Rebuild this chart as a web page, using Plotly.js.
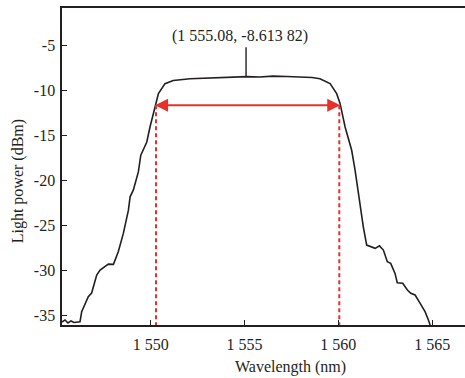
<!DOCTYPE html>
<html>
<head>
<meta charset="utf-8">
<script src="https://cdn.plot.ly/plotly-3.0.1.min.js"></script>
<style>html,body{margin:0;padding:0;background:#fff;}#chart{width:465px;height:378px;}</style>
</head>
<body>
<div id="chart"></div>
<script>
// Spectrum (wavelength in nm, power in dBm)
const wavelength = [1545.27,1545.43,1545.59,1545.75,1545.91,1546.12,1546.23,1546.32,1546.49,1546.67,1546.85,1547.12,1547.30,1547.51,1547.74,1548.01,1548.27,1548.54,1548.81,1548.90,1549.07,1549.34,1549.47,1549.79,1549.96,1550.23,1550.41,1550.76,1551.20,1552.09,1553.00,1553.69,1554.40,1555.12,1555.80,1556.52,1557.25,1557.96,1558.60,1559.02,1559.56,1559.91,1560.09,1560.36,1560.71,1560.89,1561.16,1561.33,1561.51,1561.78,1561.96,1562.19,1562.40,1562.61,1562.79,1563.02,1563.14,1563.43,1563.68,1563.86,1564.09,1564.36,1564.62,1564.80,1564.89];
const power = [-35.70,-35.47,-35.81,-35.58,-35.75,-35.70,-35.66,-34.55,-33.81,-32.89,-32.48,-30.48,-29.93,-29.60,-29.27,-29.30,-27.90,-25.86,-23.28,-21.80,-21.06,-19.03,-17.18,-15.71,-14.04,-11.83,-10.34,-9.23,-8.87,-8.68,-8.62,-8.57,-8.55,-8.45,-8.50,-8.40,-8.44,-8.48,-8.55,-8.68,-9.23,-10.34,-11.42,-14.04,-16.63,-18.84,-22.91,-25.13,-27.16,-27.35,-27.52,-27.24,-27.71,-29.01,-29.19,-30.30,-31.34,-31.40,-32.15,-32.51,-32.70,-33.62,-34.55,-35.47,-36.03];

// Peak annotation
const peakX = 1555.08;
const peakY = -8.45;
const peakLabel = "(1 555.08, -8.613 82)";
const peakLabelY = -3.9;
const peakLineTop = -5.2;

// 3 dB bandwidth markers
const edgeLeft = 1550.28;
const edgeRight = 1560.05;
const arrowLeft = 1550.15;
const arrowRight = 1560.10;
const bandLevel = -11.64;

// Axes
const xTickVals = [1550, 1555, 1560, 1565];
const xTickText = ["1 550", "1 555", "1 560", "1 565"];
const yTickVals = [-35, -30, -25, -20, -15, -10, -5];
const yTickText = ["-35", "-30", "-25", "-20", "-15", "-10", "-5"];
const xRange = [1545.27, 1566.75];
const yRange = [-36.03, -0.83];

const red = "#e8302a";
const ink = "#231f20";
const font = "Liberation Serif";

const traces = [
  {x: wavelength, y: power, mode: "lines", line: {color: ink, width: 1.6}, hoverinfo: "skip"},
  {x: [edgeLeft, edgeLeft], y: [bandLevel, yRange[0]], mode: "lines", line: {color: red, width: 2, dash: "4px,3px"}, hoverinfo: "skip"},
  {x: [edgeRight, edgeRight], y: [bandLevel, yRange[0]], mode: "lines", line: {color: red, width: 2, dash: "4px,3px"}, hoverinfo: "skip"},
  {x: [peakX, peakX], y: [peakY, peakLineTop], mode: "lines", line: {color: ink, width: 1.4}, hoverinfo: "skip"}
];

const layout = {
  width: 465, height: 378,
  margin: {l: 62, r: 0, t: 8, b: 53},
  showlegend: false,
  paper_bgcolor: "#fff", plot_bgcolor: "#fff",
  font: {family: font, size: 16, color: ink},
  xaxis: {
    range: xRange, tickvals: xTickVals, ticktext: xTickText,
    ticks: "inside", ticklen: 5, tickwidth: 1.3, tickcolor: ink,
    showline: true, linecolor: ink, linewidth: 1.6, mirror: true,
    showgrid: false, zeroline: false, ticklabelstandoff: 4,
    tickfont: {family: font, size: 16, color: ink}
  },
  yaxis: {
    range: yRange, tickvals: yTickVals, ticktext: yTickText,
    ticks: "inside", ticklen: 5, tickwidth: 1.3, tickcolor: ink,
    showline: true, linecolor: ink, linewidth: 1.6, mirror: false,
    showgrid: false, zeroline: false, ticklabelstandoff: 2,
    tickfont: {family: font, size: 16, color: ink}
  },
  annotations: [
    {x: arrowRight, y: bandLevel, ax: arrowLeft, ay: bandLevel, axref: "x", ayref: "y", xref: "x", yref: "y",
     text: "", showarrow: true, arrowhead: 2, arrowside: "end+start", arrowsize: 1.3, arrowwidth: 2, arrowcolor: red, standoff: 0, startstandoff: 0},
    {x: peakX - 0.3, y: peakLabelY, xref: "x", yref: "y", text: peakLabel, showarrow: false,
     font: {family: font, size: 16, color: ink}},
    {x: 0.566, y: -0.132, xref: "paper", yref: "paper", text: "Wavelength (nm)", showarrow: false,
     xanchor: "center", yanchor: "middle", font: {family: font, size: 16, color: ink}},
    {x: -0.109, y: 0.4535, xref: "paper", yref: "paper", text: "Light power (dBm)", showarrow: false, textangle: -90,
     xanchor: "center", yanchor: "middle", font: {family: font, size: 16, color: ink}}
  ]
};

Plotly.newPlot("chart", traces, layout, {displayModeBar: false, staticPlot: true});
</script>
</body>
</html>
